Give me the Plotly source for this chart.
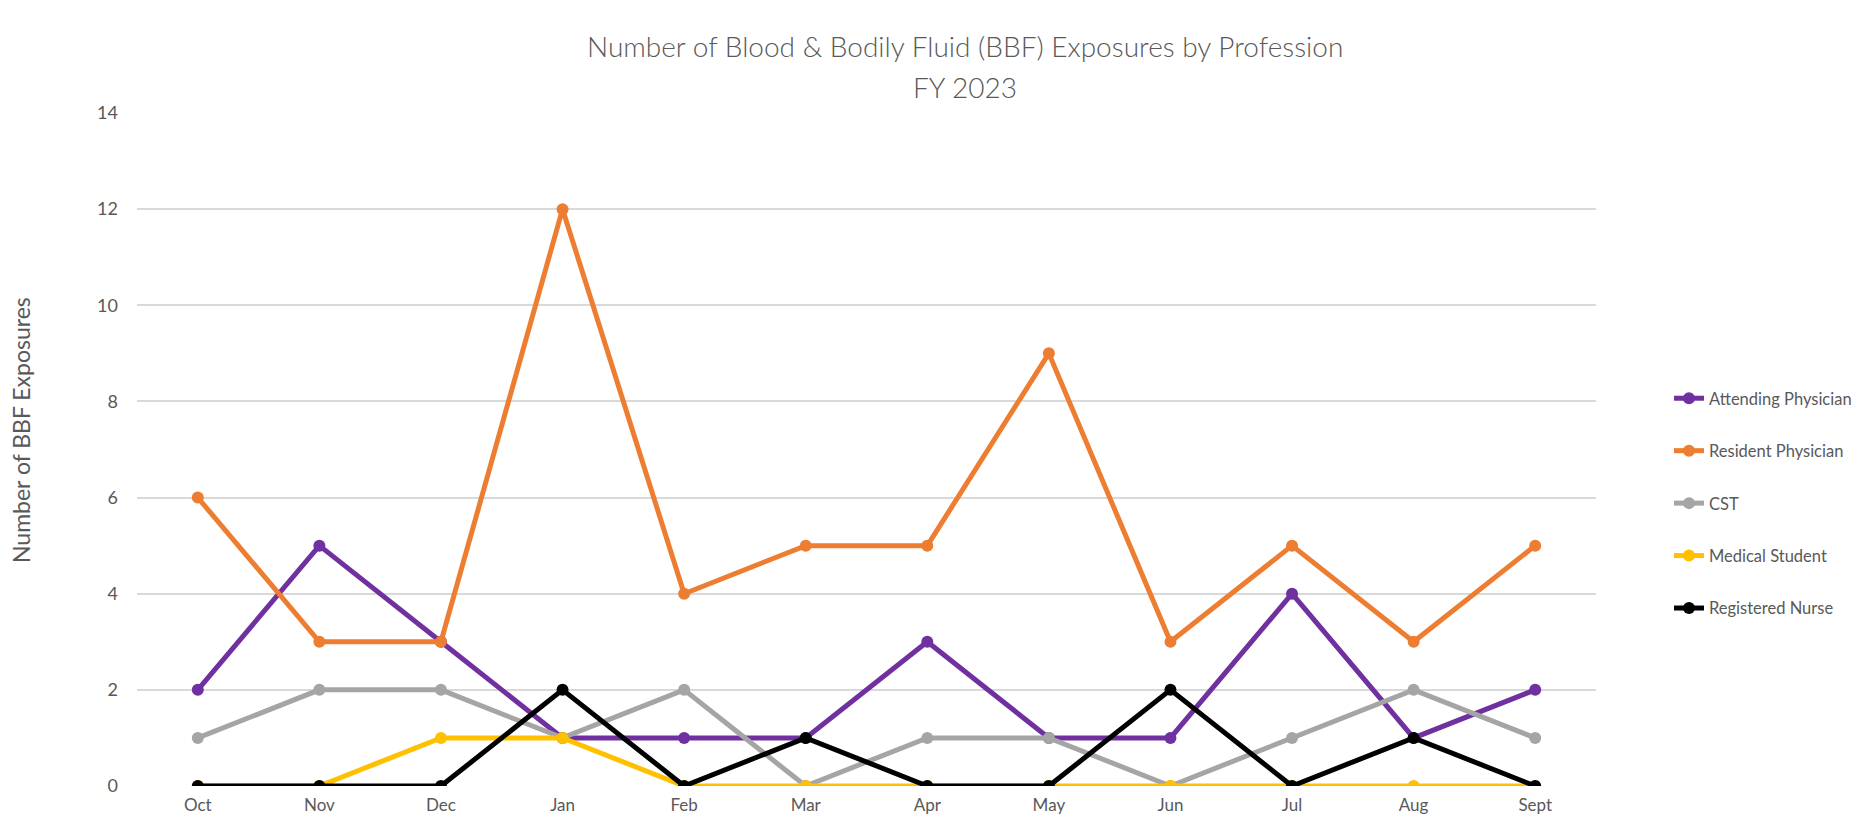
import plotly.graph_objects as go

months = ["Oct", "Nov", "Dec", "Jan", "Feb", "Mar", "Apr", "May", "Jun", "Jul", "Aug", "Sept"]
attending = [2, 5, 3, 1, 1, 1, 3, 1, 1, 4, 1, 2]
resident = [6, 3, 3, 12, 4, 5, 5, 9, 3, 5, 3, 5]
cst = [1, 2, 2, 1, 2, 0, 1, 1, 0, 1, 2, 1]
med_student = [0, 0, 1, 1, 0, 0, 0, 0, 0, 0, 0, 0]
nurse = [0, 0, 0, 2, 0, 1, 0, 0, 2, 0, 1, 0]

series = [
    ("Attending Physician", attending, "#7030A0"),
    ("Resident Physician", resident, "#ED7D31"),
    ("CST", cst, "#A5A5A5"),
    ("Medical Student", med_student, "#FFC000"),
    ("Registered Nurse", nurse, "#000000"),
]

W, H = 1864, 821
L, R, T, B = 137, 1596, 113, 786
FONT = "Lato"
GREY = "#595959"

fig = go.Figure()
for i, (name, vals, col) in enumerate(series):
    fig.add_trace(go.Scatter(
        x=months, y=vals, name=name, mode="lines+markers",
        line=dict(color=col, width=5),
        marker=dict(color=col, size=12),
        legendgroup=f"g{i}",
    ))

pw = R - L
ph = B - T

def px_x(x):
    return (x - L) / pw

def px_y(y):
    return (B - y) / ph

fig.update_layout(
    width=W, height=H,
    margin=dict(l=L, r=W - R, t=T, b=H - B, pad=0, autoexpand=False),
    paper_bgcolor="white", plot_bgcolor="white",
    font=dict(family=FONT, color=GREY, size=16),
    showlegend=True,
    legend=dict(
        x=px_x(1669), y=px_y(381), xanchor="left", yanchor="top",
        font=dict(family=FONT, size=16.5, color=GREY),
        tracegroupgap=28, traceorder="grouped",
        bgcolor="rgba(0,0,0,0)",
    ),
    xaxis=dict(
        type="category", range=[-0.5, 11.5], showgrid=False, zeroline=False,
        showline=False, ticks="", tickfont=dict(family=FONT, size=17, color=GREY),
        ticklabelstandoff=7, automargin=False,
    ),
    yaxis=dict(
        range=[0, 14], dtick=2, showgrid=True, gridcolor="#D9D9D9", gridwidth=2,
        zeroline=False, showline=False, ticks="",
        tickfont=dict(family=FONT, size=18, color=GREY),
        ticklabelstandoff=18, automargin=False,
    ),
    annotations=[
        dict(text="Number of Blood &amp; Bodily Fluid (BBF) Exposures by Profession",
             x=px_x(965), y=px_y(46), xref="paper", yref="paper",
             xanchor="center", yanchor="middle", showarrow=False,
             font=dict(family=FONT, size=28, color=GREY, weight=300)),
        dict(text="FY 2023",
             x=px_x(965), y=px_y(87), xref="paper", yref="paper",
             xanchor="center", yanchor="middle", showarrow=False,
             font=dict(family=FONT, size=28, color=GREY, weight=300)),
        dict(text="Number of BBF Exposures",
             x=px_x(21), y=px_y(430), xref="paper", yref="paper",
             xanchor="center", yanchor="middle", showarrow=False, textangle=-90,
             font=dict(family=FONT, size=23, color=GREY)),
    ],
)

fig.write_html(
    "out.html",
    config={"displayModeBar": False},
    post_script="document.body.style.margin='0';document.body.style.overflow='hidden';",
)
